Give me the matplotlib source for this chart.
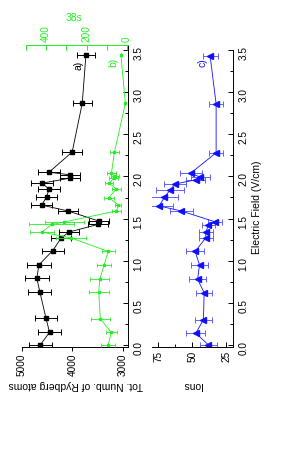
import matplotlib.pyplot as plt
from matplotlib.ticker import MultipleLocator

plt.rcParams['font.family'] = ['Liberation Sans', 'DejaVu Sans']

# a) total number of Rydberg atoms
field_a = [0.0, 0.15, 0.32, 0.63, 0.79, 0.95, 1.12, 1.27, 1.34, 1.43, 1.47, 1.59, 1.66,
           1.76, 1.85, 1.92, 1.98, 2.02, 2.05, 2.29, 2.87, 3.44]
rydberg = [4640, 4454, 4526, 4646, 4706, 4666, 4392, 4222, 4070, 3501, 3475, 4086, 4610,
           4511, 4465, 4604, 4050, 4050, 4465, 4006, 3806, 3734]
rydberg_err = [230, 230, 220, 230, 240, 235, 220, 200, 200, 200, 200, 200, 210,
               210, 210, 210, 200, 200, 215, 200, 190, 185]

# b) 38s
field_b = [0.0, 0.15, 0.31, 0.63, 0.78, 0.95, 1.11, 1.27, 1.34, 1.43, 1.46, 1.59, 1.66,
           1.75, 1.85, 1.92, 1.98, 2.00, 2.04, 2.29, 2.87, 3.44]
s38 = [93, 78, 132, 140, 135, 113, 93, 276, 421, 373, 310, 52, 43,
       90, 52, 88, 65, 60, 77, 62, 8, 30]
s38_err = [35, 27, 46, 50, 46, 36, 33, 75, 60, 112, 96, 22, 15,
           25, 20, 20, 22, 20, 22, 20, 0, 0]

# c) ions
field_c = [0.0, 0.14, 0.30, 0.62, 0.78, 0.95, 1.11, 1.27, 1.34, 1.42, 1.46, 1.59, 1.65,
           1.75, 1.84, 1.91, 1.96, 1.99, 2.04, 2.28, 2.86, 3.43]
ions = [38, 47.3, 41.7, 41.2, 46, 44.6, 47.8, 40, 40, 38, 33, 58, 74.3,
        70.4, 66.2, 62.5, 47.3, 44, 51, 32.4, 32.4, 36.8]
ions_err = [6, 7, 6.4, 6, 6.5, 6.5, 6.5, 5, 5, 5, 5, 8.6, 10,
            10, 10, 8, 7, 7, 8, 5, 5, 5.5]

W, H = 283, 475
green = '#22ee22'
fs = 7.2

def box(x0, y0, x1, y1):
    return [x0 / W, 1 - y1 / H, (x1 - x0) / W, (y1 - y0) / H]

fig = plt.figure(figsize=(W / 100, H / 100), dpi=100)

# left panel: Rydberg atoms + 38s
ax1 = fig.add_axes(box(22, 45, 128, 347))
ax1.errorbar(rydberg, field_a, xerr=rydberg_err, fmt='s-', color='black', lw=0.6,
             ms=3.3, elinewidth=0.7, capsize=2, capthick=0.7)
ax1.set_xlim(5000, 2900)
ax1.set_ylim(-0.024, 3.56)
ax1.spines['left'].set_visible(False)
ax1.spines['top'].set_visible(False)
for s in ax1.spines.values():
    s.set_linewidth(0.7)
ax1.set_xticks([5000, 4000, 3000])
ax1.set_yticks([0, 0.5, 1.0, 1.5, 2.0, 2.5, 3.0, 3.5])
ax1.yaxis.set_minor_locator(MultipleLocator(0.25))
ax1.yaxis.tick_right()
ax1.tick_params(axis='y', which='both', direction='in', right=True, left=False,
                labelsize=fs, labelrotation=90, pad=4, width=0.7)
ax1.tick_params(axis='y', which='major', length=3.5)
ax1.tick_params(axis='y', which='minor', length=2)
ax1.tick_params(axis='x', direction='out', length=3, width=0.7, labelsize=fs,
                labelrotation=90, pad=2)

ax2 = ax1.twiny()
ax2.errorbar(s38, field_b, xerr=s38_err, fmt='s-', color=green, lw=0.6,
             ms=2, elinewidth=0.6, capsize=1.6, capthick=0.6)
for k in ['left', 'right', 'bottom']:
    ax2.spines[k].set_visible(False)
ax2.spines['top'].set_color(green)
ax2.spines['top'].set_linewidth(0.7)
ax2.spines['top'].set_bounds(-5, 500)
ax2.set_xticks([0, 200, 400])
ax2.xaxis.set_minor_locator(MultipleLocator(100))
ax2.tick_params(axis='x', which='both', direction='in', colors=green, labelsize=fs,
                labelrotation=90, pad=2, width=0.7, length=3.5)
ax2.set_xlim(520, -5)

# right panel: ions
ax3 = fig.add_axes(box(152, 50, 233, 347))
ax3.errorbar(ions, field_c, xerr=ions_err, fmt='<-', color='#1010ff', lw=0.6,
             ms=3.7, ecolor='#6060ff', elinewidth=0.7, capsize=2, capthick=0.7)
ax3.set_xlim(79.5, 20)
ax3.set_ylim(-0.024, 3.5)
ax3.spines['left'].set_visible(False)
ax3.spines['top'].set_visible(False)
for s in ax3.spines.values():
    s.set_linewidth(0.7)
ax3.set_xticks([75, 50, 25])
ax3.xaxis.set_minor_locator(MultipleLocator(12.5))
ax3.set_yticks([0, 0.5, 1.0, 1.5, 2.0, 2.5, 3.0, 3.5])
ax3.yaxis.set_minor_locator(MultipleLocator(0.25))
ax3.yaxis.tick_right()
ax3.tick_params(axis='y', which='both', direction='in', right=True, left=False,
                labelsize=fs, labelrotation=90, pad=4, width=0.7)
ax3.tick_params(axis='y', which='major', length=3.5)
ax3.tick_params(axis='y', which='minor', length=2)
ax3.tick_params(axis='x', which='both', direction='in', width=0.7, labelsize=fs,
                labelrotation=90, pad=3)
ax3.tick_params(axis='x', which='major', length=3.5)
ax3.tick_params(axis='x', which='minor', length=2.5)

def ftext(x, y, s, **kw):
    fig.text(x / W, 1 - y / H, s, ha='center', va='center', **kw)

ftext(76, 385, 'Tot. Numb. of Rydberg atoms', rotation=180, fontsize=7.5)
ftext(192, 385, 'Ions', rotation=180, fontsize=7.5)
ftext(257, 207, 'Electric Field (V/cm)', rotation=90, fontsize=7.5)
ftext(74, 18, '38s', color=green, fontsize=7.5)
ftext(79, 65, 'a)', rotation=90, fontsize=7.5)
ftext(113.5, 62, 'b)', rotation=90, fontsize=7.5, color=green)
ftext(202, 63, 'c)', rotation=90, fontsize=7.5, color='#1010ff')

fig.savefig('out.png', dpi=100)
